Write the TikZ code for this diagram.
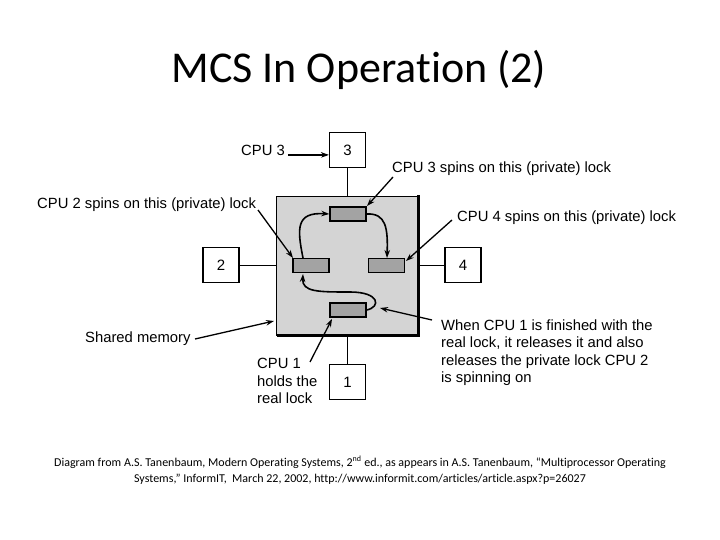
\documentclass[tikz,border=0pt]{standalone}
\usepackage{fontspec}
\setmainfont{Carlito}[Ligatures={NoCommon}]
\newfontfamily\arialf{Liberation Sans}
\usetikzlibrary{arrows.meta}
\begin{document}
\begin{tikzpicture}[x=1pt,y=-1pt,
  cpubox/.style={draw,line width=1.1pt,fill=white,minimum width=36pt,minimum height=35pt,inner sep=0pt,font=\arialf\fontsize{15}{15}\selectfont},
  lockbox/.style={draw,line width=1.4pt,fill=black!36,minimum width=36pt,minimum height=14pt,inner sep=0pt},
  lbl/.style={font=\arialf\fontsize{14.8}{17.5}\selectfont,inner sep=0pt,anchor=base west},
  ptr/.style={line width=1.3pt,-{Stealth[length=8pt,width=5.5pt]}},
  flow/.style={line width=1.6pt,-{Stealth[length=8pt,width=5.5pt]}},
  conn/.style={line width=0.9pt}]
\useasboundingbox (0,0) rectangle (720,540);
% title
\node[font=\fontsize{44}{44}\selectfont,anchor=base,inner sep=0pt] (title) at (359,83) {MCS In Operation (2)};
% shared memory
\node[draw,line width=1pt,fill=black!17,minimum width=142pt,minimum height=138pt,inner sep=0pt] (mem) at (347,266) {};
\draw[line width=2.2pt] ([xshift=1pt]mem.south west) -- (mem.south east) -- ([yshift=1pt]mem.north east);
% cpus
\node[cpubox] (c3) at (347.5,150) {3};
\node[cpubox] (c2) at (221,265) {2};
\node[cpubox] (c4) at (463,265) {4};
\node[cpubox] (c1) at (347.5,382) {1};
\draw[conn] (c3.south) -- (c3.south |- mem.north);
\draw[conn] (c1.north) -- (c1.north |- mem.south);
\draw[conn] (c2.east) -- (c2.east -| mem.west);
\draw[conn] (c4.west) -- (c4.west -| mem.east);
% locks
\node[lockbox] (lt) at (348,214) {};
\node[lockbox] (ll) at (311,265.5) {};
\node[lockbox] (lr) at (386.5,265.5) {};
\node[lockbox] (lb) at (348,310) {};
% flows
\draw[flow] (303,258) .. controls (297,228) and (296,212) .. (lt.west);
\draw[flow] (lt.east) .. controls (386,213) and (388,228) .. (387,258);
\draw[flow] (lb.east) .. controls (381,307) and (380,292) .. (350,292)
  .. controls (318,292) and (302,292) .. (303,274);
% labels
\node[lbl] (t3) at (241,156) {CPU 3};
\draw[ptr] (t3.east) ++(3pt,-4pt) coordinate (t3a) -- (t3a -| c3.west);
\node[lbl] (t3s) at (392,173) {CPU 3 spins on this (private) lock};
\coordinate (t3t) at (393,177);
\draw[ptr] (t3t) -- (367,206);
\node[lbl] (t2s) at (37,209) {CPU 2 spins on this (private) lock};
\coordinate (t2t) at (258,210);
\draw[ptr] (t2t) -- (293,258);
\node[lbl] (t4s) at (457,222) {CPU 4 spins on this (private) lock};
\coordinate (t4t) at (452,220);
\draw[ptr] (t4t) -- (406,261);
\node[lbl] (tsm) at (85,342) {Shared memory};
\coordinate (tsmt) at (195,339);
\draw[ptr] (tsmt) -- (274,321);
\node[lbl,align=left,anchor=north west] (tc1) at (257,358) {CPU 1\\holds the\\real lock};
\coordinate (tc1t) at (310,362);
\draw[ptr] (tc1t) -- (332,319);
\node[lbl,align=left,anchor=north west] (tw) at (441,319.5) {When CPU 1 is finished with the\\real lock, it releases it and also\\releases the private lock CPU 2\\is spinning on};
\coordinate (twt) at (432,320);
\draw[ptr] (twt) -- (380,308);
% footnote
\node[font=\fontsize{12}{16.5}\selectfont,align=center,anchor=north,inner sep=0pt] (foot) at (360,456) {Diagram from A.S. Tanenbaum, Modern Operating Systems, 2\textsuperscript{nd} ed., as appears in A.S. Tanenbaum, “Multiprocessor Operating\\Systems,” InformIT,\ \ March 22, 2002, http://www.informit.com/articles/article.aspx?p=26027};
\end{tikzpicture}
\end{document}
